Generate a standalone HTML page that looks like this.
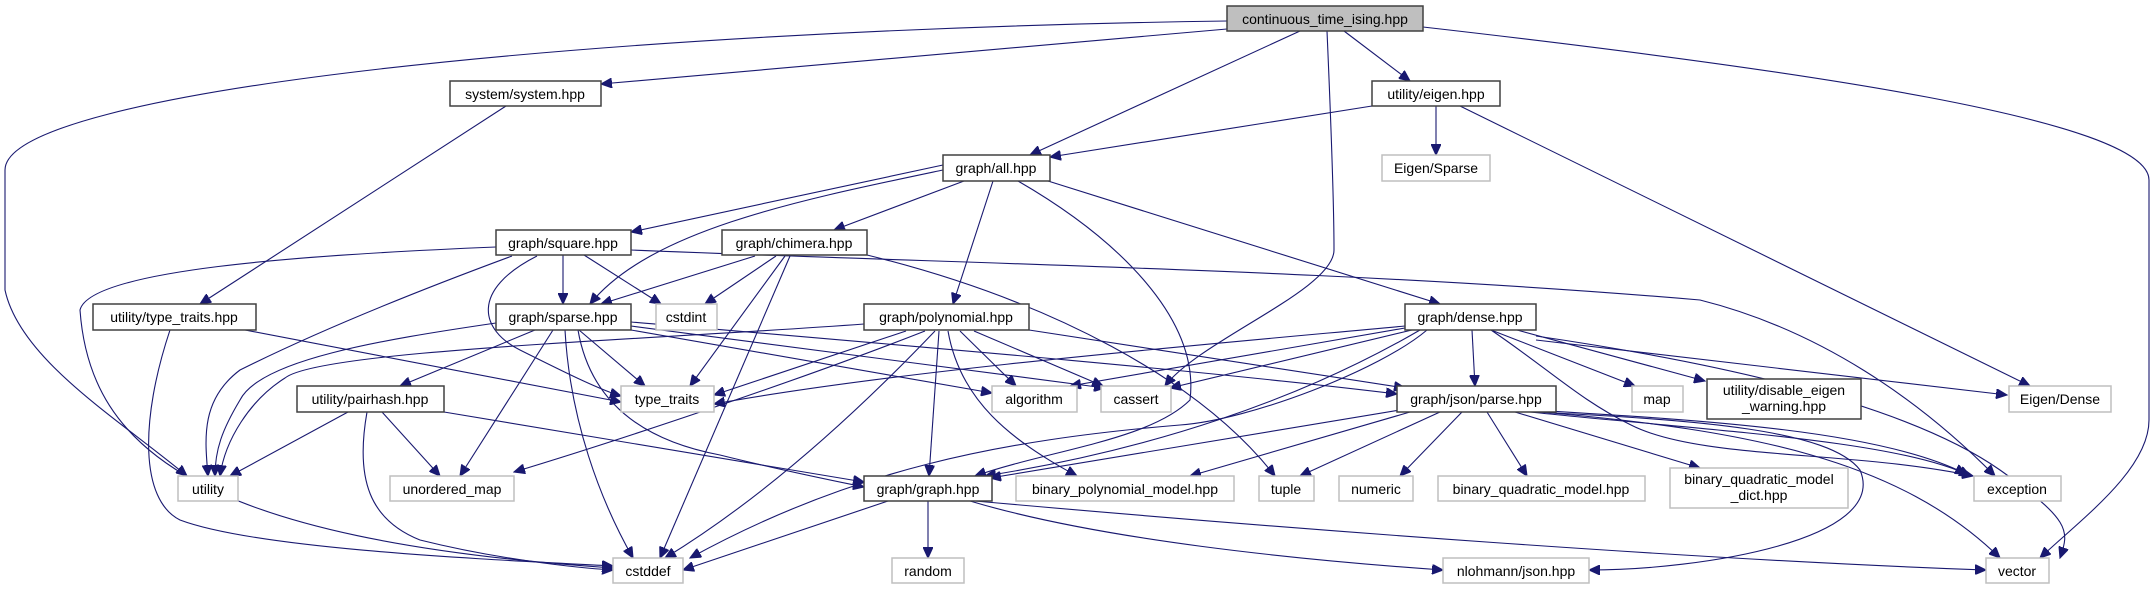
<!DOCTYPE html>
<html><head><meta charset="utf-8"><style>
html,body{margin:0;padding:0;background:#fff;}
svg{display:block;}
text{font-family:"Liberation Sans",sans-serif;font-size:14px;fill:#000;text-anchor:middle;}
.n rect{fill:#fff;stroke:#404040;stroke-width:1.5;}
.g rect{fill:#fff;stroke:#bfbfbf;stroke-width:1.5;}
path{fill:none;stroke:#191970;stroke-width:1.1;}
</style></head><body>
<svg width="2155" height="589" viewBox="0 0 2155 589" xmlns="http://www.w3.org/2000/svg">
<defs><marker id="a" markerUnits="userSpaceOnUse" markerWidth="12" markerHeight="10" refX="11" refY="5" orient="auto"><path d="M0,0 L11,5 L0,10 Z" style="fill:#191970;stroke:#191970"/></marker></defs>
<g marker-end="url(#a)">
<path d="M1227,21 C600,30 5,90 5,170 L5,290 C20,360 120,420 187,476"/>
<path d="M1227,29 L601,84"/>
<path d="M1300,31 L1030,155"/>
<path d="M1327,31 C1330,100 1334,200 1334,250 C1334,290 1200,340 1165,386"/>
<path d="M1344,31 L1410,81"/>
<path d="M1423,27 C1800,70 2149,120 2149,180 L2149,420 C2149,470 2080,520 2040,558"/>
<path d="M506,106 L200,304"/>
<path d="M1372,106 L1050,157"/>
<path d="M1436,106 L1436,155"/>
<path d="M1460,106 L2030,386"/>
<path d="M943,165 L631,232"/>
<path d="M943,170 C800,200 650,230 590,304"/>
<path d="M964,181 L834,230"/>
<path d="M993,181 L953,304"/>
<path d="M1018,181 C1120,240 1200,320 1190,400 C1150,440 1050,450 975,476"/>
<path d="M1048,181 L1440,304"/>
<path d="M563,255 L563,304"/>
<path d="M584,255 L661,304"/>
<path d="M496,247 C300,255 90,270 80,310 C90,450 200,540 613,568"/>
<path d="M512,256 C420,290 320,330 240,370 C200,400 205,440 208,476"/>
<path d="M537,256 C470,290 480,330 520,350 C560,370 600,390 621,396"/>
<path d="M631,250 C1000,265 1350,270 1700,300 C1820,330 1920,400 1995,476"/>
<path d="M755,256 L601,304"/>
<path d="M776,256 L705,304"/>
<path d="M785,256 L690,386"/>
<path d="M790,256 L660,558"/>
<path d="M867,255 C1050,300 1200,380 1275,476"/>
<path d="M245,330 L621,402"/>
<path d="M170,330 C140,420 140,500 180,520 C260,550 500,560 613,566"/>
<path d="M496,323 C380,340 260,360 240,400 C222,430 215,450 215,476"/>
<path d="M579,330 L645,386"/>
<path d="M535,330 L400,386"/>
<path d="M553,330 L460,476"/>
<path d="M565,330 C570,420 600,500 633,558"/>
<path d="M578,330 C590,400 640,440 720,455 C780,470 830,480 864,487"/>
<path d="M631,330 L992,393"/>
<path d="M631,326 L1105,388"/>
<path d="M631,322 C900,345 1200,370 1397,394"/>
<path d="M348,412 L230,476"/>
<path d="M382,412 L440,476"/>
<path d="M367,412 C355,480 370,520 420,540 C500,560 580,568 613,570"/>
<path d="M444,412 L864,482"/>
<path d="M864,324 C650,340 320,350 285,378 C250,400 225,440 220,476"/>
<path d="M906,331 L714,395"/>
<path d="M925,331 C800,380 620,440 514,472"/>
<path d="M935,331 C850,420 760,500 665,558"/>
<path d="M960,331 L1016,386"/>
<path d="M974,331 L1103,386"/>
<path d="M939,331 L929,476"/>
<path d="M948,331 C960,400 1010,440 1077,476"/>
<path d="M1029,330 L1405,388"/>
<path d="M1405,326 C1200,345 900,370 714,404"/>
<path d="M1405,328 L1070,386"/>
<path d="M1412,330 L1170,388"/>
<path d="M1420,330 C1300,400 1150,450 985,476"/>
<path d="M1427,330 C1380,370 1250,420 1180,425 C1000,440 850,470 690,558"/>
<path d="M1472,330 L1475,386"/>
<path d="M1491,330 L1635,386"/>
<path d="M1517,330 L1705,381"/>
<path d="M1536,340 L2007,395"/>
<path d="M1536,336 C1700,360 1900,400 2000,470 C2070,520 2070,530 2060,558"/>
<path d="M1491,330 C1550,370 1580,400 1631,425 C1700,460 1850,450 1973,476"/>
<path d="M1400,410 L990,478"/>
<path d="M1410,412 L1190,476"/>
<path d="M1440,412 L1300,476"/>
<path d="M1462,412 L1400,476"/>
<path d="M1487,412 L1527,476"/>
<path d="M1515,412 L1700,468"/>
<path d="M1530,412 C1700,430 1900,440 1970,476"/>
<path d="M1532,410 C1700,420 1880,430 1966,474"/>
<path d="M1540,412 C1750,430 1900,460 2000,558"/>
<path d="M1535,412 C1700,420 1830,430 1860,470 C1890,540 1700,570 1589,570"/>
<path d="M928,501 L928,558"/>
<path d="M888,501 L683,570"/>
<path d="M970,501 C1100,540 1300,560 1443,570"/>
<path d="M975,501 C1300,530 1700,560 1986,570"/>
</g>
<g class="n"><rect x="1227" y="6" width="196" height="25" style="fill:#bfbfbf"/><text x="1325" y="24">continuous_time_ising.hpp</text></g>
<g class="n"><rect x="450" y="81" width="151" height="25"/><text x="525" y="99">system/system.hpp</text></g>
<g class="n"><rect x="1372" y="81" width="128" height="25"/><text x="1436" y="99">utility/eigen.hpp</text></g>
<g class="n"><rect x="943" y="155" width="107" height="26"/><text x="996" y="173">graph/all.hpp</text></g>
<g class="g"><rect x="1382" y="155" width="108" height="26"/><text x="1436" y="173" style="fill:#000">Eigen/Sparse</text></g>
<g class="n"><rect x="496" y="230" width="135" height="25"/><text x="563" y="248">graph/square.hpp</text></g>
<g class="n"><rect x="722" y="230" width="145" height="25"/><text x="794" y="248">graph/chimera.hpp</text></g>
<g class="n"><rect x="93" y="304" width="163" height="26"/><text x="174" y="322">utility/type_traits.hpp</text></g>
<g class="n"><rect x="496" y="304" width="135" height="26"/><text x="563" y="322">graph/sparse.hpp</text></g>
<g class="g"><rect x="656" y="304" width="61" height="26"/><text x="686" y="322">cstdint</text></g>
<g class="n"><rect x="864" y="304" width="165" height="26"/><text x="946" y="322">graph/polynomial.hpp</text></g>
<g class="n"><rect x="1405" y="304" width="131" height="26"/><text x="1470" y="322">graph/dense.hpp</text></g>
<g class="g"><rect x="621" y="386" width="93" height="26"/><text x="667" y="404">type_traits</text></g>
<g class="n"><rect x="297" y="386" width="147" height="26"/><text x="370" y="404">utility/pairhash.hpp</text></g>
<g class="g"><rect x="992" y="386" width="85" height="26"/><text x="1034" y="404">algorithm</text></g>
<g class="g"><rect x="1101" y="386" width="70" height="26"/><text x="1136" y="404">cassert</text></g>
<g class="n"><rect x="1397" y="386" width="159" height="26"/><text x="1476" y="404">graph/json/parse.hpp</text></g>
<g class="g"><rect x="1632" y="386" width="51" height="26"/><text x="1657" y="404">map</text></g>
<g class="n"><rect x="1707" y="379" width="154" height="40"/><text x="1784" y="395">utility/disable_eigen</text><text x="1784" y="411">_warning.hpp</text></g>
<g class="g"><rect x="2009" y="386" width="102" height="26"/><text x="2060" y="404">Eigen/Dense</text></g>
<g class="g"><rect x="178" y="476" width="60" height="25"/><text x="208" y="494">utility</text></g>
<g class="g"><rect x="390" y="476" width="124" height="25"/><text x="452" y="494">unordered_map</text></g>
<g class="n"><rect x="864" y="476" width="128" height="25"/><text x="928" y="494">graph/graph.hpp</text></g>
<g class="g"><rect x="1016" y="476" width="218" height="25"/><text x="1125" y="494">binary_polynomial_model.hpp</text></g>
<g class="g"><rect x="1259" y="476" width="55" height="25"/><text x="1286" y="494">tuple</text></g>
<g class="g"><rect x="1339" y="476" width="74" height="25"/><text x="1376" y="494">numeric</text></g>
<g class="g"><rect x="1438" y="476" width="207" height="25"/><text x="1541" y="494">binary_quadratic_model.hpp</text></g>
<g class="g"><rect x="1670" y="468" width="178" height="40"/><text x="1759" y="484">binary_quadratic_model</text><text x="1759" y="500">_dict.hpp</text></g>
<g class="g"><rect x="1974" y="476" width="87" height="25"/><text x="2017" y="494">exception</text></g>
<g class="g"><rect x="613" y="558" width="70" height="25"/><text x="648" y="576">cstddef</text></g>
<g class="g"><rect x="892" y="558" width="72" height="25"/><text x="928" y="576">random</text></g>
<g class="g"><rect x="1443" y="558" width="146" height="25"/><text x="1516" y="576">nlohmann/json.hpp</text></g>
<g class="g"><rect x="1986" y="558" width="63" height="25"/><text x="2017" y="576">vector</text></g>
</svg>
</body></html>
